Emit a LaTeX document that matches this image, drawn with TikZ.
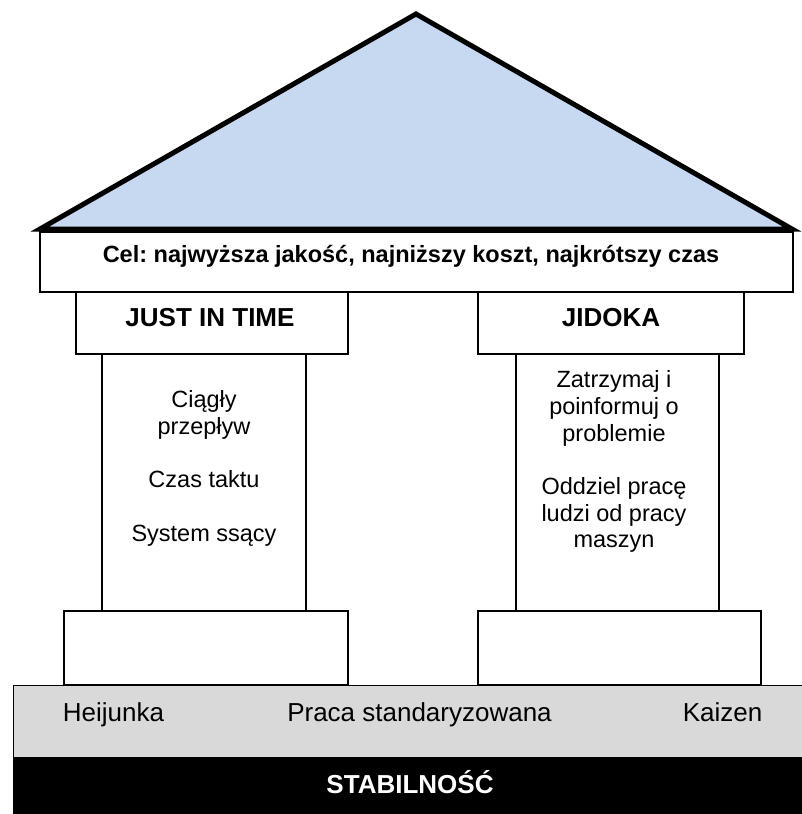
\documentclass[tikz,border=0pt]{standalone}
\usepackage{fontspec}
\setmainfont{Liberation Sans}
\frenchspacing
\definecolor{roofblue}{HTML}{C6D9F1}
\definecolor{floorgray}{HTML}{D9D9D9}

\begin{document}
\begin{tikzpicture}[x=1pt, y=-1pt, line width=1.5pt,
    part/.style={draw, fill=white},
    head/.style={font=\fontsize{26}{30}\selectfont\bfseries, anchor=base, inner sep=0pt},
    body/.style={font=\fontsize{23.5}{26.7}\selectfont, align=center, anchor=north, inner sep=0pt},
    floortext/.style={font=\fontsize{26}{30}\selectfont, anchor=base, inner sep=0pt}]
    \useasboundingbox (0, 0) rectangle (802, 814);

    \draw [fill=roofblue, line width=5pt] (40, 229) -- (416, 14) -- (792, 229) -- cycle;
    \draw [part] (40, 232) rectangle (793, 292);

    \draw [part] (76, 292) rectangle (348, 354);
    \draw [part] (102, 354) rectangle (306, 611);
    \draw [part] (64, 611) rectangle (348, 685);

    \draw [part] (478, 292) rectangle (744, 354);
    \draw [part] (516, 354) rectangle (719, 611);
    \draw [part] (478, 611) rectangle (761, 685);

    \draw [fill=floorgray, line width=1pt] (13, 685) rectangle (806, 757);
    \fill [black] (13, 757) rectangle (806, 818);

    \node [head, font=\fontsize{23.5}{28}\selectfont\bfseries] (goal) at (411, 262)
        {Cel: najwyższa jakość, najniższy koszt, najkrótszy czas};
    \node [head] (jit)    at (210, 326) {JUST IN TIME};
    \node [head] (jidoka) at (611, 326) {JIDOKA};

    \node [body] (jitlist) at (204, 390)
        {Ciągły\\przepływ\\[26.7pt]Czas taktu\\[26.7pt]System ssący};
    \node [body] (jidokalist) at (614, 370)
        {Zatrzymaj i\\poinformuj o\\problemie\\[26.7pt]Oddziel pracę\\ludzi od pracy\\maszyn};

    \node [floortext] (heijunka) at (113.5, 721) {Heijunka};
    \node [floortext] (standard) at (419.5, 721) {Praca standaryzowana};
    \node [floortext] (kaizen)   at (722.5, 721) {Kaizen};

    \node [head, white] (stability) at (410, 793) {STABILNOŚĆ};
\end{tikzpicture}
\end{document}
